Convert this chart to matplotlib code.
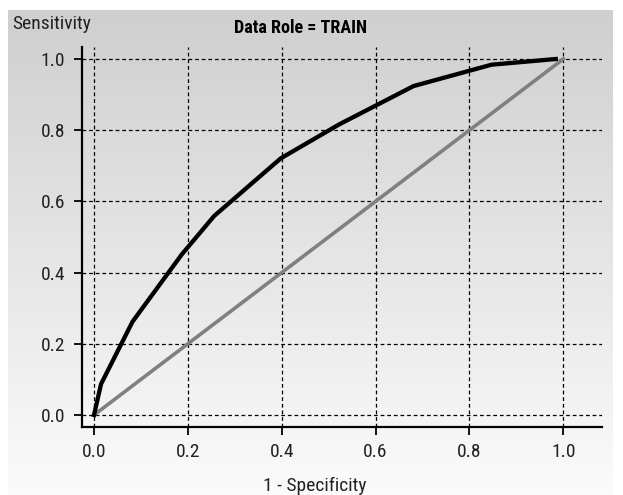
import numpy as np
import matplotlib
matplotlib.use("Agg")
import matplotlib.pyplot as plt

plt.rcParams['font.family'] = ['Roboto Condensed', 'Liberation Sans', 'DejaVu Sans']

# ROC curve
fpr = [0.0, 0.015, 0.082, 0.187, 0.256, 0.398, 0.522, 0.681, 0.847, 0.984]
tpr = [0.0, 0.087, 0.262, 0.451, 0.559, 0.721, 0.816, 0.924, 0.984, 1.0]
base_x = [0.0, 1.0]
base_y = [0.0, 1.0]
ticks = [0.0, 0.2, 0.4, 0.6, 0.8, 1.0]
tick_labels = ['0.0', '0.2', '0.4', '0.6', '0.8', '1.0']

W, H = 623, 495
fig = plt.figure(figsize=(W / 100, H / 100), dpi=100)
fig.patch.set_facecolor('white')

# gray gradient panel behind everything
bg = fig.add_axes([8 / W, 0, (613 - 8) / W, (H - 10) / H], zorder=0)
grad = np.linspace(207, 251, 256)
grad = np.clip(grad, 0, 250)[:, None] / 255.0
bg.imshow(np.dstack([grad, grad, grad]), aspect='auto', extent=[0, 1, 0, 1], origin='upper')
bg.axis('off')

left, right = 82 / W, 601.7 / W
bottom, top = 1 - 426.7 / H, 1 - 47 / H
ax = fig.add_axes([left, bottom, right - left, top - bottom], zorder=1)
ax.patch.set_alpha(0)

ax.plot(base_x, base_y, color='#808080', lw=2.6, zorder=3)
ax.plot(fpr, tpr, color='black', lw=3.1, zorder=4)

ax.set_xlim(-0.0256, 1.0818)
ax.set_ylim(-0.0329, 1.0337)
ax.set_xticks(ticks)
ax.set_xticklabels(tick_labels)
ax.set_yticks(ticks)
ax.set_yticklabels(tick_labels)
ax.grid(True, color='black', lw=0.9, linestyle=(0, (3, 2.3)), zorder=2)

for s in ['top', 'right']:
    ax.spines[s].set_visible(False)
for s in ['left', 'bottom']:
    ax.spines[s].set_linewidth(1.6)
ax.tick_params(direction='out', length=6, width=1.3, labelsize=14, colors='black',
               labelcolor='#222222')
ax.tick_params(axis='x', pad=6)
ax.tick_params(axis='y', pad=6)

fig.text(12 / W, 1 - 24 / H, 'Sensitivity', fontsize=14, color='#222222',
         ha='left', va='center')
fig.text(300 / W, 1 - 28 / H, 'Data Role = TRAIN', fontsize=13, fontweight='bold',
         ha='center', va='center')
fig.text(315 / W, 1 - 486 / H, '1 - Specificity', fontsize=14, color='#222222',
         ha='center', va='center')

fig.savefig('out.png', dpi=100)
